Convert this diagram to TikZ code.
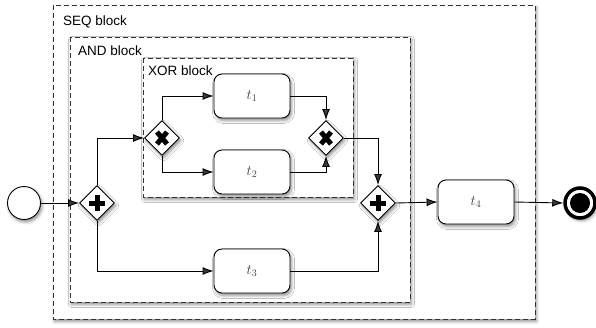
\documentclass[tikz,border=0pt]{standalone}
\usepackage{fontspec}
\setsansfont{Liberation Sans}
\usetikzlibrary{arrows.meta,shapes.geometric,shadows.blur}

\tikzset{
  softshadow/.style={blur shadow={shadow xshift=1.5pt, shadow yshift=-2.5pt, shadow blur radius=3pt, shadow opacity=45}},
  block/.style={draw=black!80, line width=1pt, dash pattern=on 5pt off 3pt, fill=white, softshadow},
  blocklabel/.style={anchor=base west, inner sep=0pt, font=\sffamily\fontsize{13.5}{16}\selectfont},
  task/.style={draw, rounded corners=8pt, line width=0.9pt, fill=white, minimum width=76pt, minimum height=44pt,
               inner sep=0pt, text=black!75, font=\fontsize{14}{16}\selectfont, softshadow},
  gateway/.style={diamond, draw, fill=white, line width=0.9pt, minimum size=35pt, inner sep=0pt, aspect=1, softshadow},
  andgw/.style={gateway, path picture={
      \draw[line width=5pt] (path picture bounding box.center) ++(-8pt,0pt) -- ++(16pt,0pt);
      \draw[line width=5pt] (path picture bounding box.center) ++(0pt,-8pt) -- ++(0pt,16pt);}},
  xorgw/.style={gateway, path picture={
      \draw[line width=5pt] (path picture bounding box.center) ++(-5pt,-6pt) -- ++(10pt,12pt);
      \draw[line width=5pt] (path picture bounding box.center) ++(-5pt,6pt) -- ++(10pt,-12pt);}},
  startev/.style={circle, draw, fill=white, line width=0.9pt, minimum size=33pt, inner sep=0pt, softshadow},
  endev/.style={circle, draw, fill=white, line width=3.5pt, minimum size=30pt, inner sep=0pt, softshadow},
  flow/.style={line width=0.9pt, -{Latex[length=11pt,width=8pt]}}
}

\begin{document}
\begin{tikzpicture}[x=1pt, y=-1pt]
  \useasboundingbox (0,0) rectangle (596,327);

  % nested blocks
  \draw[block] (53,5) rectangle (535,319);
  \node[blocklabel] (seqlab) at (63,25) {SEQ block};
  \draw[block] (70,37) rectangle (410,302);
  \node[blocklabel] (andlab) at (78,55) {AND block};
  \draw[block] (143,58) rectangle (353,197);
  \node[blocklabel] (xorlab) at (148,75) {XOR block};

  \node[startev] (start) at (24,203) {};
  \node[endev] (end) at (580,203) {};
  \fill (end.center) circle (10pt);

  \foreach \name/\x/\y/\kind in {as/97/203/andgw, xs/162/138/xorgw, xj/326/138/xorgw, aj/378/203/andgw}
    \node[\kind] (\name) at (\x,\y) {};

  \foreach \name/\x/\y/\num in {t1/252/96/1, t2/252/172/2, t3/252/271/3, t4/476/202/4}
    \node[task] (\name) at (\x,\y) {$t_{\num}$};

  % sequence flows
  \draw[flow] (start.east) -- (as.west);
  \draw[flow] (as.north) |- (xs.west);
  \draw[flow] (as.south) |- (t3.west);
  \draw[flow] (xs.north) |- (t1.west);
  \draw[flow] (xs.south) |- (t2.west);
  \draw[flow] (t1.east) -| (xj.north);
  \draw[flow] (t2.east) -| (xj.south);
  \draw[flow] (xj.east) -| (aj.north);
  \draw[flow] (t3.east) -| (aj.south);
  \draw[flow] (aj.east) -- (t4.west);
  \draw[flow] (t4.east) -- (end.west);

\end{tikzpicture}
\end{document}
